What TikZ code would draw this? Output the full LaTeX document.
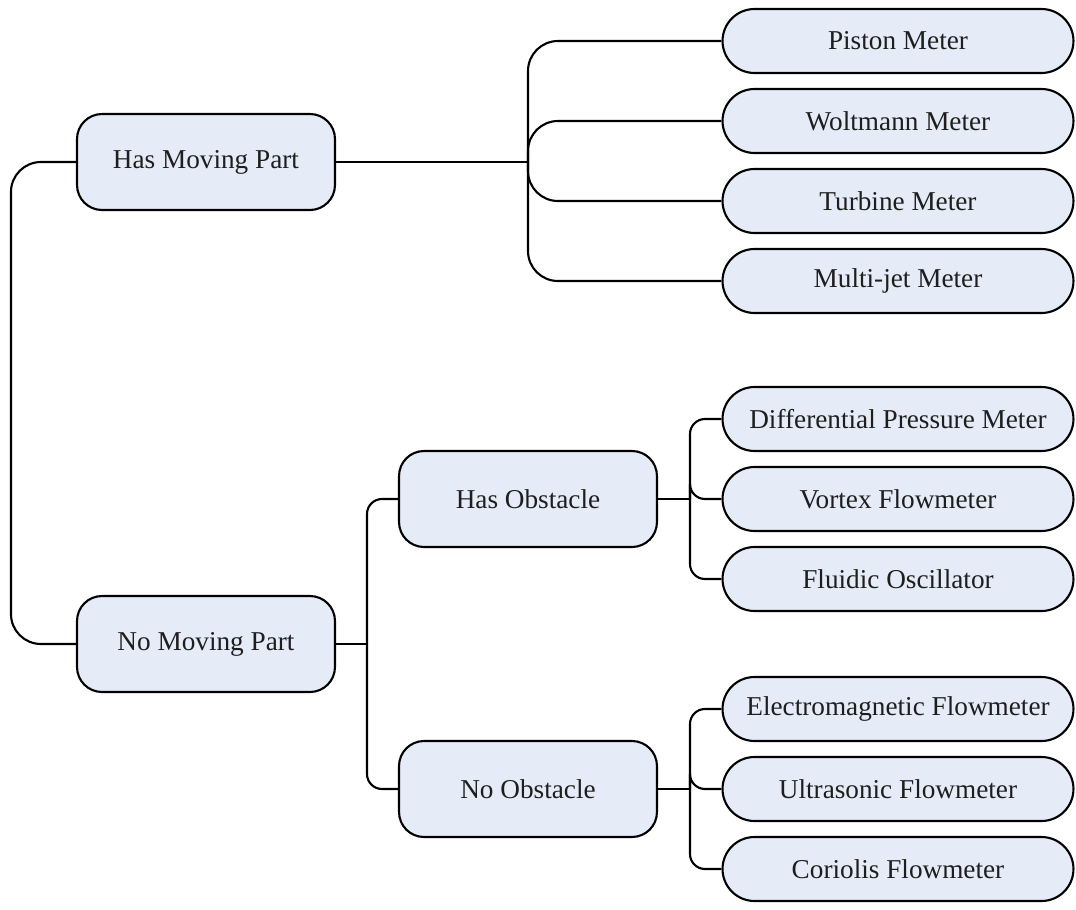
\documentclass[tikz,border=0pt]{standalone}
\usepackage{fontspec}
\setmainfont{Liberation Serif}
\usetikzlibrary{positioning}
\usepackage{xcolor}
\definecolor{boxfill}{RGB}{230,236,247}
\definecolor{textgray}{RGB}{30,30,30}

\begin{document}
\begin{tikzpicture}[x=0.02cm, y=-0.02cm, line width=1.2pt,
  font=\fontsize{15.5}{18}\selectfont,
  cat/.style={draw, fill=boxfill, text=textgray, rounded corners=0.5cm, minimum width=5.16cm, minimum height=1.92cm},
  leaf/.style={draw, fill=boxfill, text=textgray, rounded corners=0.64cm, minimum width=7.02cm, minimum height=1.28cm},
  biglink/.style={rounded corners=0.6cm},
  smalllink/.style={rounded corners=0.3cm}]
\useasboundingbox (0,0) rectangle (1076,910);
% categories
\node[cat] (hasmov) at (206,162) {Has Moving Part};
\node[cat] (nomov) at (206,644) {No Moving Part};
\node[cat] (hasobs) at (528,499) {Has Obstacle};
\node[cat] (noobs) at (528,789) {No Obstacle};
% junctions
\coordinate (j1) at (528,162);
\coordinate (j2) at (367,644);
\coordinate (j3) at (690,499);
\coordinate (j4) at (690,789);
\draw[biglink] (hasmov.west) -- ++(-65,0) |- (nomov.west);
\draw (hasmov.east) -- (j1);
\draw (nomov.east) -- (j2);
\draw (hasobs.east) -- (j3);
\draw (noobs.east) -- (j4);
\draw[smalllink] (j2) |- (hasobs.west);
\draw[smalllink] (j2) |- (noobs.west);
% leaves
\foreach \y/\lbl [count=\i] in {41/Piston Meter, 121/Woltmann Meter, 201/Turbine Meter, 281/Multi-jet Meter} {
  \node[leaf] (m\i) at (898,\y) {\lbl};
  \draw[biglink] (j1) |- (m\i.west);
}
\foreach \y/\lbl [count=\i] in {419/Differential Pressure Meter, 499/Vortex Flowmeter, 579/Fluidic Oscillator} {
  \node[leaf] (o\i) at (898,\y) {\lbl};
  \draw[smalllink] (j3) |- (o\i.west);
}
\foreach \y/\lbl [count=\i] in {709/Electromagnetic Flowmeter, 789/Ultrasonic Flowmeter, 869/Coriolis Flowmeter} {
  \node[leaf] (n\i) at (898,\y) {\lbl};
  \draw[smalllink] (j4) |- (n\i.west);
}
\end{tikzpicture}
\end{document}
